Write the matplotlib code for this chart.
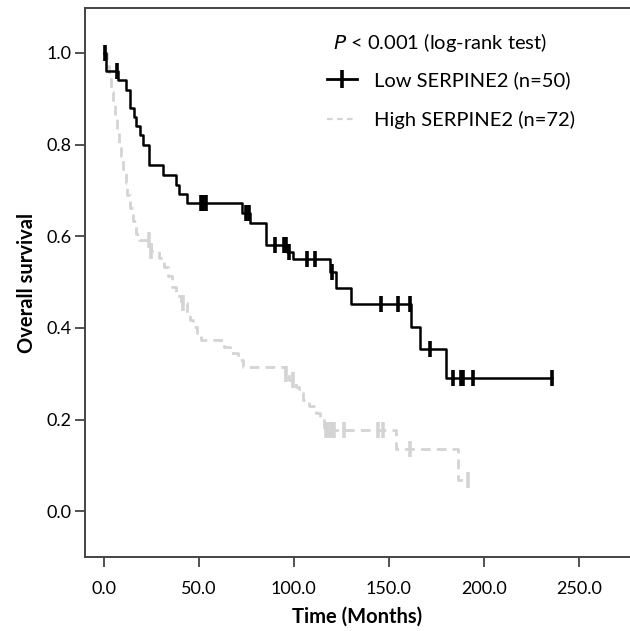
import numpy as np
import matplotlib
matplotlib.use('Agg')
import matplotlib.pyplot as plt
from matplotlib.lines import Line2D

plt.rcParams['font.family'] = ['Lato', 'DejaVu Sans']

# Low SERPINE2 (n=50): event times (months) and survival after each drop
low_times = [0, 1.0, 7.5, 11.7, 13.6, 16.0, 17.1, 19.2, 20.6, 23.6, 31.2, 38.1, 39.9,
             43.6, 73.0, 77.0, 85.3, 96.5, 99.5, 119.0, 122.3, 130.0, 161.6, 166.3, 180.0]
low_surv = [1.0, 0.96, 0.94, 0.92, 0.88, 0.86, 0.84, 0.82, 0.80, 0.755, 0.733, 0.712, 0.693,
            0.672, 0.651, 0.628, 0.580, 0.566, 0.551, 0.523, 0.486, 0.452, 0.401, 0.353, 0.290]
low_end = 236.0
low_censor = [0.5, 7.0, 51.0, 52.5, 54.0, 75.0, 76.5, 90.0, 95.0, 96.0, 97.5, 107.0, 111.0,
              120.0, 146.0, 155.0, 161.0, 172.0, 183.6, 188.0, 189.3, 194.5, 236.0]

# High SERPINE2 (n=72)
high_times = [0, 1.5, 3, 4, 5, 6, 7, 8, 9, 10, 11.5, 12.5, 14, 15.5, 17, 18.5, 25, 29, 32,
              34, 36, 38, 40.5, 44, 45.5, 47, 49, 51, 63.5, 66.5, 70.5, 73.5, 95.5, 97.5,
              101, 103, 105, 108, 112, 114, 116, 154, 186.6]
high_surv = [1.0, 0.971, 0.942, 0.915, 0.887, 0.858, 0.830, 0.802, 0.774, 0.746, 0.717,
             0.689, 0.662, 0.633, 0.605, 0.591, 0.567, 0.553, 0.533, 0.513, 0.489, 0.469,
             0.454, 0.432, 0.418, 0.402, 0.388, 0.374, 0.359, 0.345, 0.330, 0.315, 0.300,
             0.286, 0.272, 0.257, 0.243, 0.229, 0.214, 0.199, 0.178, 0.135, 0.067]
high_end = 192.0
high_censor = [0.5, 24.0, 25.0, 42.0, 96.0, 99.5, 117.0, 118.0, 119.0, 120.0, 121.0,
               126.5, 144.5, 147.0, 161.0, 192.0]

xticks = [0, 50, 100, 150, 200, 250]
yticks = [0.0, 0.2, 0.4, 0.6, 0.8, 1.0]

LOW_COLOR = 'black'
HIGH_COLOR = '#d4d4d4'


def surv_at(times, surv, t):
    """survival value of the step curve at time t"""
    idx = np.searchsorted(times, t, side='right') - 1
    return np.asarray(surv)[idx]


fig = plt.figure(figsize=(6.3, 6.31), dpi=100)
ax = fig.add_axes([0.135, 0.1173, 0.865, 0.870])

# high curve (dashed, light gray)
ht = np.array(high_times + [high_end])
hs = np.array(high_surv + [high_surv[-1]])
ax.step(ht, hs, where='post', color=HIGH_COLOR, lw=2.0, ls=(0, (3.5, 2.2)), zorder=2)
ax.plot(high_censor, surv_at(high_times, high_surv, high_censor), ls='none',
        marker='|', ms=11, mew=2.6, color=HIGH_COLOR, zorder=2)

# low curve (solid, black)
lt = np.array(low_times + [low_end])
ls_ = np.array(low_surv + [low_surv[-1]])
ax.step(lt, ls_, where='post', color=LOW_COLOR, lw=1.8, zorder=3)
ax.plot(low_censor, surv_at(low_times, low_surv, low_censor), ls='none',
        marker='|', ms=11, mew=2.6, color=LOW_COLOR, zorder=3)

ax.set_xlim(-9.8, 277.0)
ax.set_ylim(-0.100, 1.098)
ax.set_xticks(xticks)
ax.set_yticks(yticks)
ax.set_xticklabels([f'{v:.1f}' for v in xticks], fontsize=13)
ax.set_yticklabels([f'{v:.1f}' for v in yticks], fontsize=13)
ax.tick_params(axis='x', length=7.5, width=1.2, color='#333333', pad=9.5)
ax.tick_params(axis='y', length=7.5, width=1.2, color='#333333', pad=2)
for s in ['left', 'bottom', 'top']:
    ax.spines[s].set_linewidth(1.4)
    ax.spines[s].set_color('#444444')
ax.spines['right'].set_visible(False)

ax.set_xlabel('Time (Months)', fontsize=14.5, fontweight='bold', labelpad=7)
ax.set_ylabel('Overall survival', fontsize=14.5, fontweight='bold', labelpad=7)

# p-value and legend
fig.text(333 / 630, 1 - 43 / 631, r'$\mathit{P}$ < 0.001 (log-rank test)', fontsize=14.5,
         va='center', ha='left')
handles = [Line2D([], [], color=LOW_COLOR, lw=2.0, marker='|', ms=13, mew=2.6),
           Line2D([], [], color=HIGH_COLOR, lw=1.6, ls=(0, (2.5, 2.0)))]
fig.legend(handles, ['Low SERPINE2 (n=50)', 'High SERPINE2 (n=72)'], loc='upper left',
           bbox_to_anchor=(327 / 630, 1 - 71.5 / 631), frameon=False, fontsize=14.5,
           handlelength=1.5, handletextpad=0.85, labelspacing=1.05, borderpad=0,
           borderaxespad=0)

fig.savefig('out.png', dpi=100)
